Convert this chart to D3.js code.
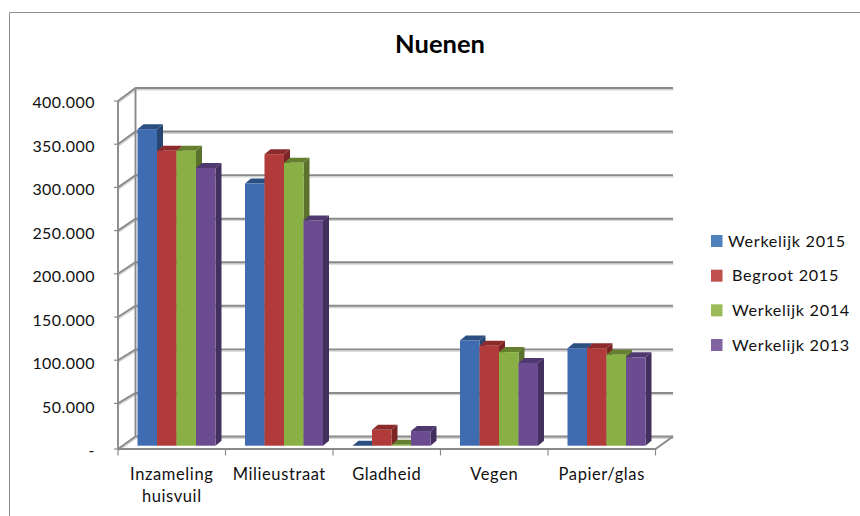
<!DOCTYPE html>
<html>
<head>
<meta charset="utf-8">
<style>
  html, body { margin: 0; padding: 0; background: #fff; }
  svg { display: block; }
  text { font-family: Lato, "Open Sans", sans-serif; fill: #111; }
</style>
<script src="https://cdn.jsdelivr.net/npm/d3@7"></script>
</head>
<body>
<svg id="chart" width="860" height="516"></svg>
<script>
'use strict'

/****** DATA ******/

const title = 'Nuenen'
const categories = ['Inzameling huisvuil', 'Milieustraat', 'Gladheid', 'Vegen', 'Papier/glas']
const seriesNames = ['Werkelijk 2015', 'Begroot 2015', 'Werkelijk 2014', 'Werkelijk 2013']
const werkelijk2015 = [367000, 304000, 0, 122000, 113000]
const begroot2015 = [342000, 338000, 18500, 116000, 113000]
const werkelijk2014 = [342000, 328000, 1000, 108500, 105500]
const werkelijk2013 = [322000, 261000, 17000, 96000, 102500]
const yTicks = [0, 50000, 100000, 150000, 200000, 250000, 300000, 350000, 400000]

const seriesValues = [werkelijk2015, begroot2015, werkelijk2014, werkelijk2013]

/****** STYLE ******/

const faceColors = ['#3f6cb0', '#b13a3a', '#89b044', '#6c4c90']
const topColors = ['#2c4f82', '#8c2b2b', '#64802f', '#4f3770']
const sideColors = ['#274674', '#7a2425', '#5a722b', '#43305e']
const legendColors = ['#4f81bd', '#c0504d', '#9bbb59', '#8064a2']
const legendTextX = [728, 732, 732, 732]
const GRID = '#8a8a8a'
const GRID_SHADOW = '#d4d4d4'

/****** SCALES ******/

const svg = d3.select('#chart')

const x = d3.scaleBand().domain(categories).range([118, 655.5])
const xBar = d3.scaleBand().domain(d3.range(seriesNames.length)).range([19.5, 97.5])

const yFront = d3.scaleLinear().domain([0, 400000]).range([446.6, 101])
const yBack = d3.scaleLinear().domain([0, 400000]).range([436.5, 88])
const yBar = d3.scaleLinear().domain([0, 400000]).range([445.7, 100.7])
const yLabel = d3.scaleLinear().domain([0, 400000]).range([450.7, 102.7])

const depth = {x: 17.5, barX: 6, barY: 5}
const xBackLeft = x.range()[0] + depth.x
const xBackRight = x.range()[1] + depth.x
const yFloorFront = yFront(0) + 2.4

const dutch = d3.formatLocale({decimal: ',', thousands: '.', grouping: [3], currency: ['€', '']})
const tickFormat = v => v === 0 ? '-' : dutch.format(',')(v)

/****** FRAME AND TITLE ******/

svg.append('path')
  .attr('d', 'M9.5,516V12.5H860')
  .attr('fill', 'none')
  .attr('stroke', '#8f8f8f')
  .attr('stroke-width', 1)

svg.append('text')
  .attr('x', 440)
  .attr('y', 52.5)
  .attr('text-anchor', 'middle')
  .style('font-size', '25.5px')
  .style('font-weight', 700)
  .style('fill', '#000')
  .text(title)

/****** WALLS ******/

const grid = svg.append('g').attr('fill', 'none')

function wallLine(v) {
  const front = v === 0 ? yFloorFront : yFront(v)
  const back = yBack(v)
  return `M${x.range()[0]},${front}L${xBackLeft},${back}H${xBackRight}`
}

// shadow first, then the line itself
grid.selectAll('.shadow')
  .data(yTicks)
  .join('path')
    .attr('class', 'shadow')
    .attr('d', wallLine)
    .attr('transform', 'translate(0.5,1.6)')
    .attr('stroke', GRID_SHADOW)
    .attr('stroke-width', 1.6)

grid.selectAll('.line')
  .data(yTicks)
  .join('path')
    .attr('class', 'line')
    .attr('d', wallLine)
    .attr('stroke', GRID)
    .attr('stroke-width', 1.9)

// back corner of the side wall
grid.append('line')
  .attr('x1', xBackLeft).attr('x2', xBackLeft)
  .attr('y1', yBack(400000)).attr('y2', yBack(0))
  .attr('stroke', GRID).attr('stroke-width', 1.9)

// front of the floor and right floor edge
grid.append('path')
  .attr('d', `M${x.range()[0]},${yFloorFront}H${x.range()[1]}L${xBackRight},${yBack(0)}`)
  .attr('stroke', GRID).attr('stroke-width', 1.9)

// front vertical axis
grid.append('line')
  .attr('x1', x.range()[0]).attr('x2', x.range()[0])
  .attr('y1', yFront(400000)).attr('y2', yFloorFront)
  .attr('stroke', GRID).attr('stroke-width', 1.9)

// tick marks on both axes
grid.selectAll('.ytick')
  .data(yTicks)
  .join('line')
    .attr('class', 'ytick')
    .attr('x1', x.range()[0] - 4).attr('x2', x.range()[0])
    .attr('y1', d => d === 0 ? yFloorFront : yFront(d))
    .attr('y2', d => d === 0 ? yFloorFront : yFront(d))
    .attr('stroke', GRID).attr('stroke-width', 1.2)

grid.selectAll('.xtick')
  .data(d3.range(categories.length + 1))
  .join('line')
    .attr('class', 'xtick')
    .attr('x1', i => x.range()[0] + i * x.step())
    .attr('x2', i => x.range()[0] + i * x.step())
    .attr('y1', yFloorFront).attr('y2', yFloorFront + 6.5)
    .attr('stroke', GRID).attr('stroke-width', 1.2)

/****** BARS ******/

const barData = categories.flatMap((c, ci) =>
  seriesNames.map((s, si) => ({category: c, series: si, value: seriesValues[si][ci]})))

const bars = svg.append('g').selectAll('g')
  .data(barData)
  .join('g')

const barLeft = d => x(d.category) + xBar(d.series)
const barRight = d => barLeft(d) + xBar.bandwidth()

// right side
bars.append('path')
  .attr('fill', d => sideColors[d.series])
  .attr('d', d => `M${barRight(d)},${yBar(d.value)}l${depth.barX},${-depth.barY}` +
                  `V${yBar(0) - depth.barY}l${-depth.barX},${depth.barY}Z`)

// top
bars.append('path')
  .attr('fill', d => topColors[d.series])
  .attr('d', d => `M${barLeft(d)},${yBar(d.value)}l${depth.barX},${-depth.barY}` +
                  `H${barRight(d) + depth.barX}l${-depth.barX},${depth.barY}Z`)

// front
bars.append('rect')
  .attr('fill', d => faceColors[d.series])
  .attr('x', barLeft)
  .attr('y', d => yBar(d.value))
  .attr('width', xBar.bandwidth())
  .attr('height', d => yBar(0) - yBar(d.value))

/****** AXIS LABELS ******/

const yAxis = svg.append('g')
  .attr('transform', 'translate(95,0)')
  .call(d3.axisLeft(yLabel).tickValues(yTicks).tickFormat(tickFormat).tickSize(0).tickPadding(0))

yAxis.select('.domain').remove()
yAxis.selectAll('text')
  .style('font-family', 'Lato, sans-serif')
  .style('font-size', '16px')
  .style('letter-spacing', '0.45px')
  .attr('fill', '#111')

const xAxis = svg.append('g')
  .attr('transform', 'translate(0,463)')
  .call(d3.axisBottom(x).tickSize(0).tickPadding(0))

xAxis.select('.domain').remove()
xAxis.selectAll('text')
  .style('font-family', 'Lato, sans-serif')
  .style('font-size', '16.5px')
  .style('letter-spacing', '0.6px')
  .attr('fill', '#111')
  .each(function(d) {
    // one word per line, like Excel wraps the long label
    const words = d.split(' ')
    const label = d3.select(this).text(null)
    words.forEach((w, i) => {
      label.append('tspan')
        .attr('x', 0)
        .attr('y', 5 + i * 22)
        .attr('dy', '0.71em')
        .text(w)
    })
  })

/****** LEGEND ******/

const yLegend = d3.scalePoint().domain(seriesNames).range([241, 345])

const legend = svg.append('g').selectAll('g')
  .data(seriesNames)
  .join('g')

legend.append('rect')
  .attr('x', 711)
  .attr('y', d => yLegend(d) - 6)
  .attr('width', 11.5)
  .attr('height', 12)
  .attr('fill', (d, i) => legendColors[i])

legend.append('text')
  .attr('x', (d, i) => legendTextX[i])
  .attr('y', d => yLegend(d))
  .attr('dy', '0.35em')
  .style('font-size', '16.2px')
  .style('letter-spacing', '0.7px')
  .text(d => d)
</script>
</body>
</html>
